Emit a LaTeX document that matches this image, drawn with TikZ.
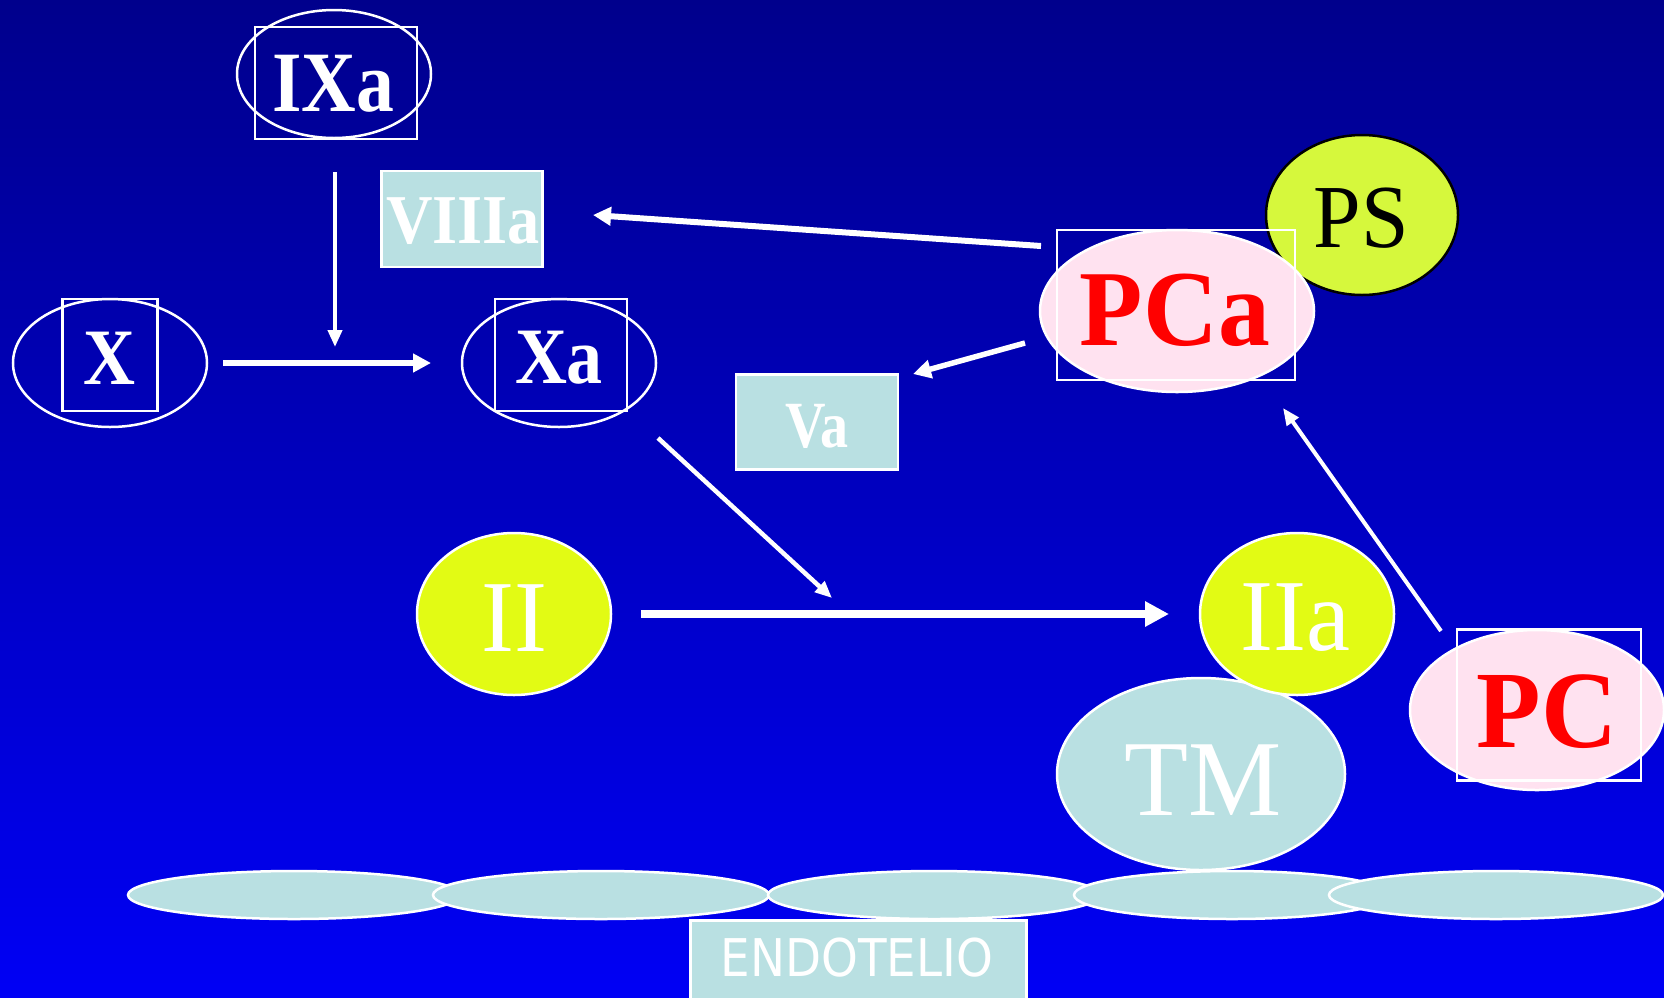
\documentclass[tikz,border=0pt]{standalone}
\usepackage{fontspec}
\setmainfont{Liberation Serif}
\newfontfamily\endofont{DejaVu Sans}
\usetikzlibrary{shapes.geometric,arrows.meta}
\definecolor{bgtop}{RGB}{0,0,140}
\definecolor{bgbot}{RGB}{0,0,245}
\definecolor{cyanfill}{RGB}{185,224,226}
\definecolor{yellowfill}{RGB}{226,251,20}
\definecolor{psfill}{RGB}{214,248,60}
\definecolor{pinkfill}{RGB}{255,226,240}
\definecolor{redtxt}{RGB}{255,0,0}
\tikzset{
  fsz/.style={font=\fontsize{#1}{#1}\selectfont},
  bfsz/.style={font=\fontsize{#1}{#1}\selectfont\bfseries},
  ring/.style={ellipse, draw=white, line width=2.5pt, inner sep=0pt},
  frame/.style={rectangle, draw=white, line width=2.5pt, inner sep=0pt},
  cbox/.style={rectangle, draw=white, line width=2.5pt, fill=cyanfill, inner sep=0pt, text=white},
  cell/.style={ellipse, draw=white, line width=2.5pt, fill=cyanfill, minimum width=#1, minimum height=48pt, inner sep=0pt},
  lbl/.style={text=white, inner sep=0pt},
  arr/.style={draw=white, line width=#1, -{Triangle[length=18pt,width=18pt]}},
  barr/.style={draw=white, line width=#1, -{Triangle[length=24pt,width=24pt]}},
  tarr/.style={draw=white, line width=#1, -{Triangle[length=17pt,width=14pt]}},
}
\begin{document}
\begin{tikzpicture}[x=1pt,y=-1pt]
\useasboundingbox (0,0) rectangle (1664,997);
\shade[top color=bgtop, bottom color=bgbot] (0,0) rectangle (1664,997);

% endothelium
\node[cell=332pt] (e1) at (294,895) {};
\node[cell=336pt] (e2) at (601,895) {};
\node[cell=332pt] (e3) at (934,895) {};
\node[cell=316pt] (e4) at (1232,895) {};
\node[cell=334pt] (e5) at (1496,895) {};
\node[cbox, minimum width=336pt, minimum height=90pt, anchor=north west] (endo) at (689,919) {};
\node[lbl, font=\endofont\fontsize{52}{52}\selectfont, xscale=0.9] (endot) at (857,958) {ENDOTELIO};

% IXa
\node[ring, minimum width=194pt, minimum height=128pt] (ixa) at (334,74) {};
\node[frame, minimum width=162pt, minimum height=112pt] (ixab) at (336,83) {};
\node[lbl, bfsz=86, xscale=0.88] (ixat) at (333,84) {IXa};

% VIIIa
\node[cbox, minimum width=161pt, minimum height=96pt] (viiia) at (462,219) {};
\node[lbl, bfsz=70, xscale=0.92] (viiiat) at (463,221) {VIIIa};

% X
\node[ring, minimum width=194pt, minimum height=128pt] (x) at (110,363) {};
\node[frame, minimum width=95pt, minimum height=112pt] (xb) at (110,355) {};
\node[lbl, bfsz=80, xscale=0.9] (xt) at (109,358) {X};

% Xa
\node[ring, minimum width=194pt, minimum height=128pt] (xa) at (559,363) {};
\node[frame, minimum width=132pt, minimum height=112pt] (xab) at (561,355) {};
\node[lbl, bfsz=80, xscale=0.9] (xat) at (559,358) {Xa};

% PS
\node[ellipse, draw=black, line width=2.5pt, fill=psfill, minimum width=192pt, minimum height=160pt, inner sep=0pt] (ps) at (1362,215) {};
\node[inner sep=0pt, fsz=90, xscale=0.95] (pst) at (1361,218) {PS};

% PCa
\node[ellipse, draw=white, line width=2.5pt, fill=pinkfill, minimum width=274pt, minimum height=162pt, inner sep=0pt] (pca) at (1177,311) {};
\node[frame, minimum width=238pt, minimum height=150pt] (pcab) at (1176,305) {};
\node[inner sep=0pt, text=redtxt, bfsz=108, xscale=0.96] (pcat) at (1175,310) {PCa};

% Va
\node[cbox, minimum width=162pt, minimum height=95pt] (va) at (817,422) {};
\node[lbl, bfsz=66, xscale=0.85] (vat) at (817,426) {Va};

% II
\node[ellipse, draw=white, line width=2.5pt, fill=yellowfill, minimum width=194pt, minimum height=162pt, inner sep=0pt] (ii) at (514,614) {};
\node[lbl, fsz=102, xscale=0.97] (iit) at (514,618) {II};

% TM
\node[ellipse, draw=white, line width=2.5pt, fill=cyanfill, minimum width=288pt, minimum height=192pt, inner sep=0pt] (tm) at (1201,774) {};
\node[lbl, fsz=108, xscale=0.97] (tmt) at (1203,780) {TM};

% IIa
\node[ellipse, draw=white, line width=2.5pt, fill=yellowfill, minimum width=194pt, minimum height=162pt, inner sep=0pt] (iia) at (1297,614) {};
\node[lbl, fsz=102, xscale=0.97] (iiat) at (1295,618) {IIa};

% PC
\node[ellipse, draw=white, line width=2.5pt, fill=pinkfill, minimum width=254pt, minimum height=160pt, inner sep=0pt] (pc) at (1537,710) {};
\node[frame, minimum width=184pt, minimum height=151pt] (pcb) at (1549,705) {};
\node[inner sep=0pt, text=redtxt, bfsz=110, xscale=0.96] (pct) at (1547,712) {PC};

% arrow endpoints
\coordinate (a1s) at (335,172);
\coordinate (a1e) at (335,347);
\coordinate (a2s) at (223,363);
\coordinate (a2e) at (431,363);
\coordinate (a3s) at (1041,246);
\coordinate (a3e) at (593,215);
\coordinate (a4s) at (1025,343);
\coordinate (a4e) at (913,374);
\coordinate (a5s) at (658,438);
\coordinate (a5e) at (832,598);
\coordinate (a6s) at (641,614);
\coordinate (a6e) at (1169,614);
\coordinate (a7s) at (1441,631);
\coordinate (a7e) at (1283,408);

\draw[tarr=4pt] (a1s) -- (a1e);
\draw[arr=6pt] (a2s) -- (a2e);
\draw[arr=6pt] (a3s) -- (a3e);
\draw[arr=5.5pt] (a4s) -- (a4e);
\draw[tarr=4.5pt] (a5s) -- (a5e);
\draw[barr=8pt] (a6s) -- (a6e);
\draw[tarr=4pt] (a7s) -- (a7e);
\end{tikzpicture}
\end{document}
